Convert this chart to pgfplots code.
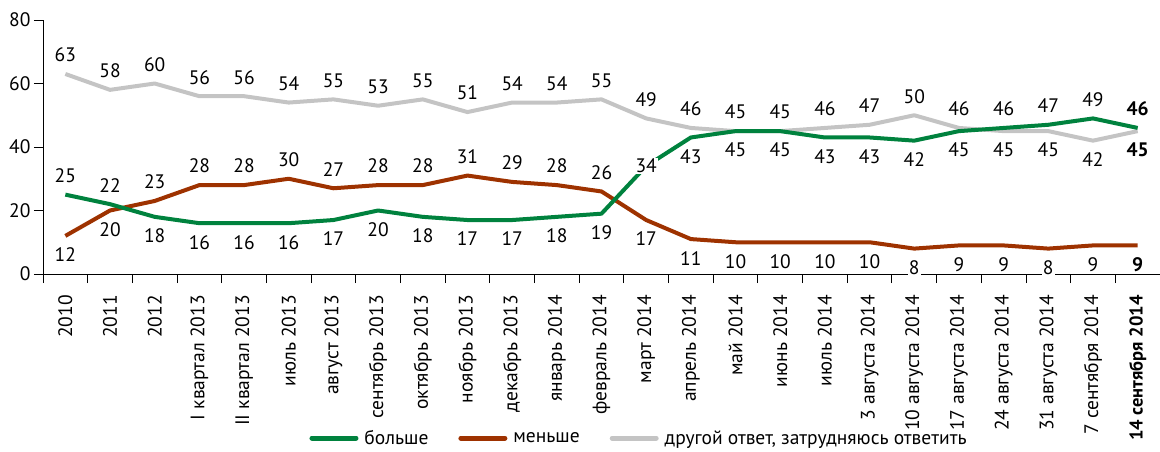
\documentclass[border=0pt]{standalone}
\usepackage{fontspec}
\setmainfont{PT Sans}
\usepackage{pgfplots}
\pgfplotsset{compat=1.18}
\usepackage{pgfplotstable}
\usetikzlibrary{calc}

\definecolor{cgreen}{RGB}{0,130,62}
\definecolor{cred}{RGB}{158,50,0}
\definecolor{cgrey}{RGB}{196,196,196}

\pgfplotstableread{
x y p b
0 25 1 0
1 22 1 0
2 18 -1 0
3 16 -1 0
4 16 -1 0
5 16 -1 0
6 17 -1 0
7 20 -1 0
8 18 -1 0
9 17 -1 0
10 17 -1 0
11 18 -1 0
12 19 -1 0
13 34 0 0
14 43 -1 0
15 45 -1 0
16 45 -1 0
17 43 -1 0
18 43 -1 0
19 42 -1 0
20 45 -1 0
21 46 1 0
22 47 1 0
23 49 1 0
24 46 1 1
}\greendata

\pgfplotstableread{
x y p b
0 12 -1 0
1 20 -1 0
2 23 1 0
3 28 1 0
4 28 1 0
5 30 1 0
6 27 1 0
7 28 1 0
8 28 1 0
9 31 1 0
10 29 1 0
11 28 1 0
12 26 1 0
13 17 -1 0
14 11 -1 0
15 10 -1 0
16 10 -1 0
17 10 -1 0
18 10 -1 0
19 8 -1 0
20 9 -1 0
21 9 -1 0
22 8 -1 0
23 9 -1 0
24 9 -1 1
}\reddata

\pgfplotstableread{
x y p b
0 63 1 0
1 58 1 0
2 60 1 0
3 56 1 0
4 56 1 0
5 54 1 0
6 55 1 0
7 53 1 0
8 55 1 0
9 51 1 0
10 54 1 0
11 54 1 0
12 55 1 0
13 49 1 0
14 46 1 0
15 45 1 0
16 45 1 0
17 46 1 0
18 47 1 0
19 50 1 0
20 46 1 0
21 45 -1 0
22 45 -1 0
23 42 -1 0
24 45 -1 1
}\greydata

\begin{document}
\begin{tikzpicture}[font=\fontsize{19.5}{23}\selectfont]
\begin{axis}[
  name=ax,
  width=1117pt, height=254pt, scale only axis,
  xmin=-0.5, xmax=24.5, ymin=0, ymax=80,
  clip=false,
  axis x line*=bottom, axis y line*=left,
  axis line style={line width=0.9pt, black},
  ytick={0,20,40,60,80},
  xtick={-0.5,0.5,...,24.5},
  xticklabels={},
  extra x ticks={0,1,...,24},
  extra x tick labels={2010,2011,2012,I квартал 2013,II квартал 2013,июль 2013,август 2013,сентябрь 2013,октябрь 2013,ноябрь 2013,декабрь 2013,январь 2014,февраль 2014,март 2014,апрель 2014,май 2014,июнь 2014,июль 2014,3 августа 2014,10 августа 2014,17 августа 2014,24 августа 2014,31 августа 2014,7 сентября 2014,{\fontsize{18.5}{22}\selectfont\bfseries 14 сентября 2014}},
  extra x tick style={major tick length=0pt},
  tick align=outside,
  major tick length=9pt,
  tick style={black, line width=0.9pt},
  x tick label style={rotate=90, anchor=east, inner sep=0pt},
  xticklabel shift=21pt,
  /pgf/number format/assume math mode=true,
  point meta=explicit symbolic,
  every axis plot/.append style={line width=4pt, line join=round},
  nodes near coords={\ifdim\isbold pt>0.5pt\bfseries\fi\pgfplotspointmeta},
  visualization depends on={\thisrow{p}\as\lpos},
  visualization depends on={\thisrow{b}\as\isbold},
  every node near coord/.append style={anchor=center, yshift=\lpos*19pt, fill=white, inner sep=1pt, text=black},
  legend columns=3,
  reverse legend,
  legend style={at={(0.5336,-0.646)}, anchor=center, draw=none, fill=none,
    /tikz/every odd column/.style={column sep=4pt},
    /tikz/every even column/.style={column sep=28pt}},
  legend image code/.code={\draw[#1, line width=5pt, line cap=round] (0pt,0pt) -- (44pt,0pt);},
]
\addplot[cgrey, mark=none] table[x=x, y=y, meta=y] {\greydata};
\addlegendentry{другой ответ, затрудняюсь ответить}
\addplot[cred, mark=none] table[x=x, y=y, meta=y] {\reddata};
\addlegendentry{меньше}
\addplot[cgreen, mark=none] table[x=x, y=y, meta=y] {\greendata};
\addlegendentry{больше}
\end{axis}
\pgfresetboundingbox
\path ($(ax.south west)+(-43pt,-177pt)$) rectangle ($(ax.north east)+(0pt,20pt)$);
\end{tikzpicture}
\end{document}
